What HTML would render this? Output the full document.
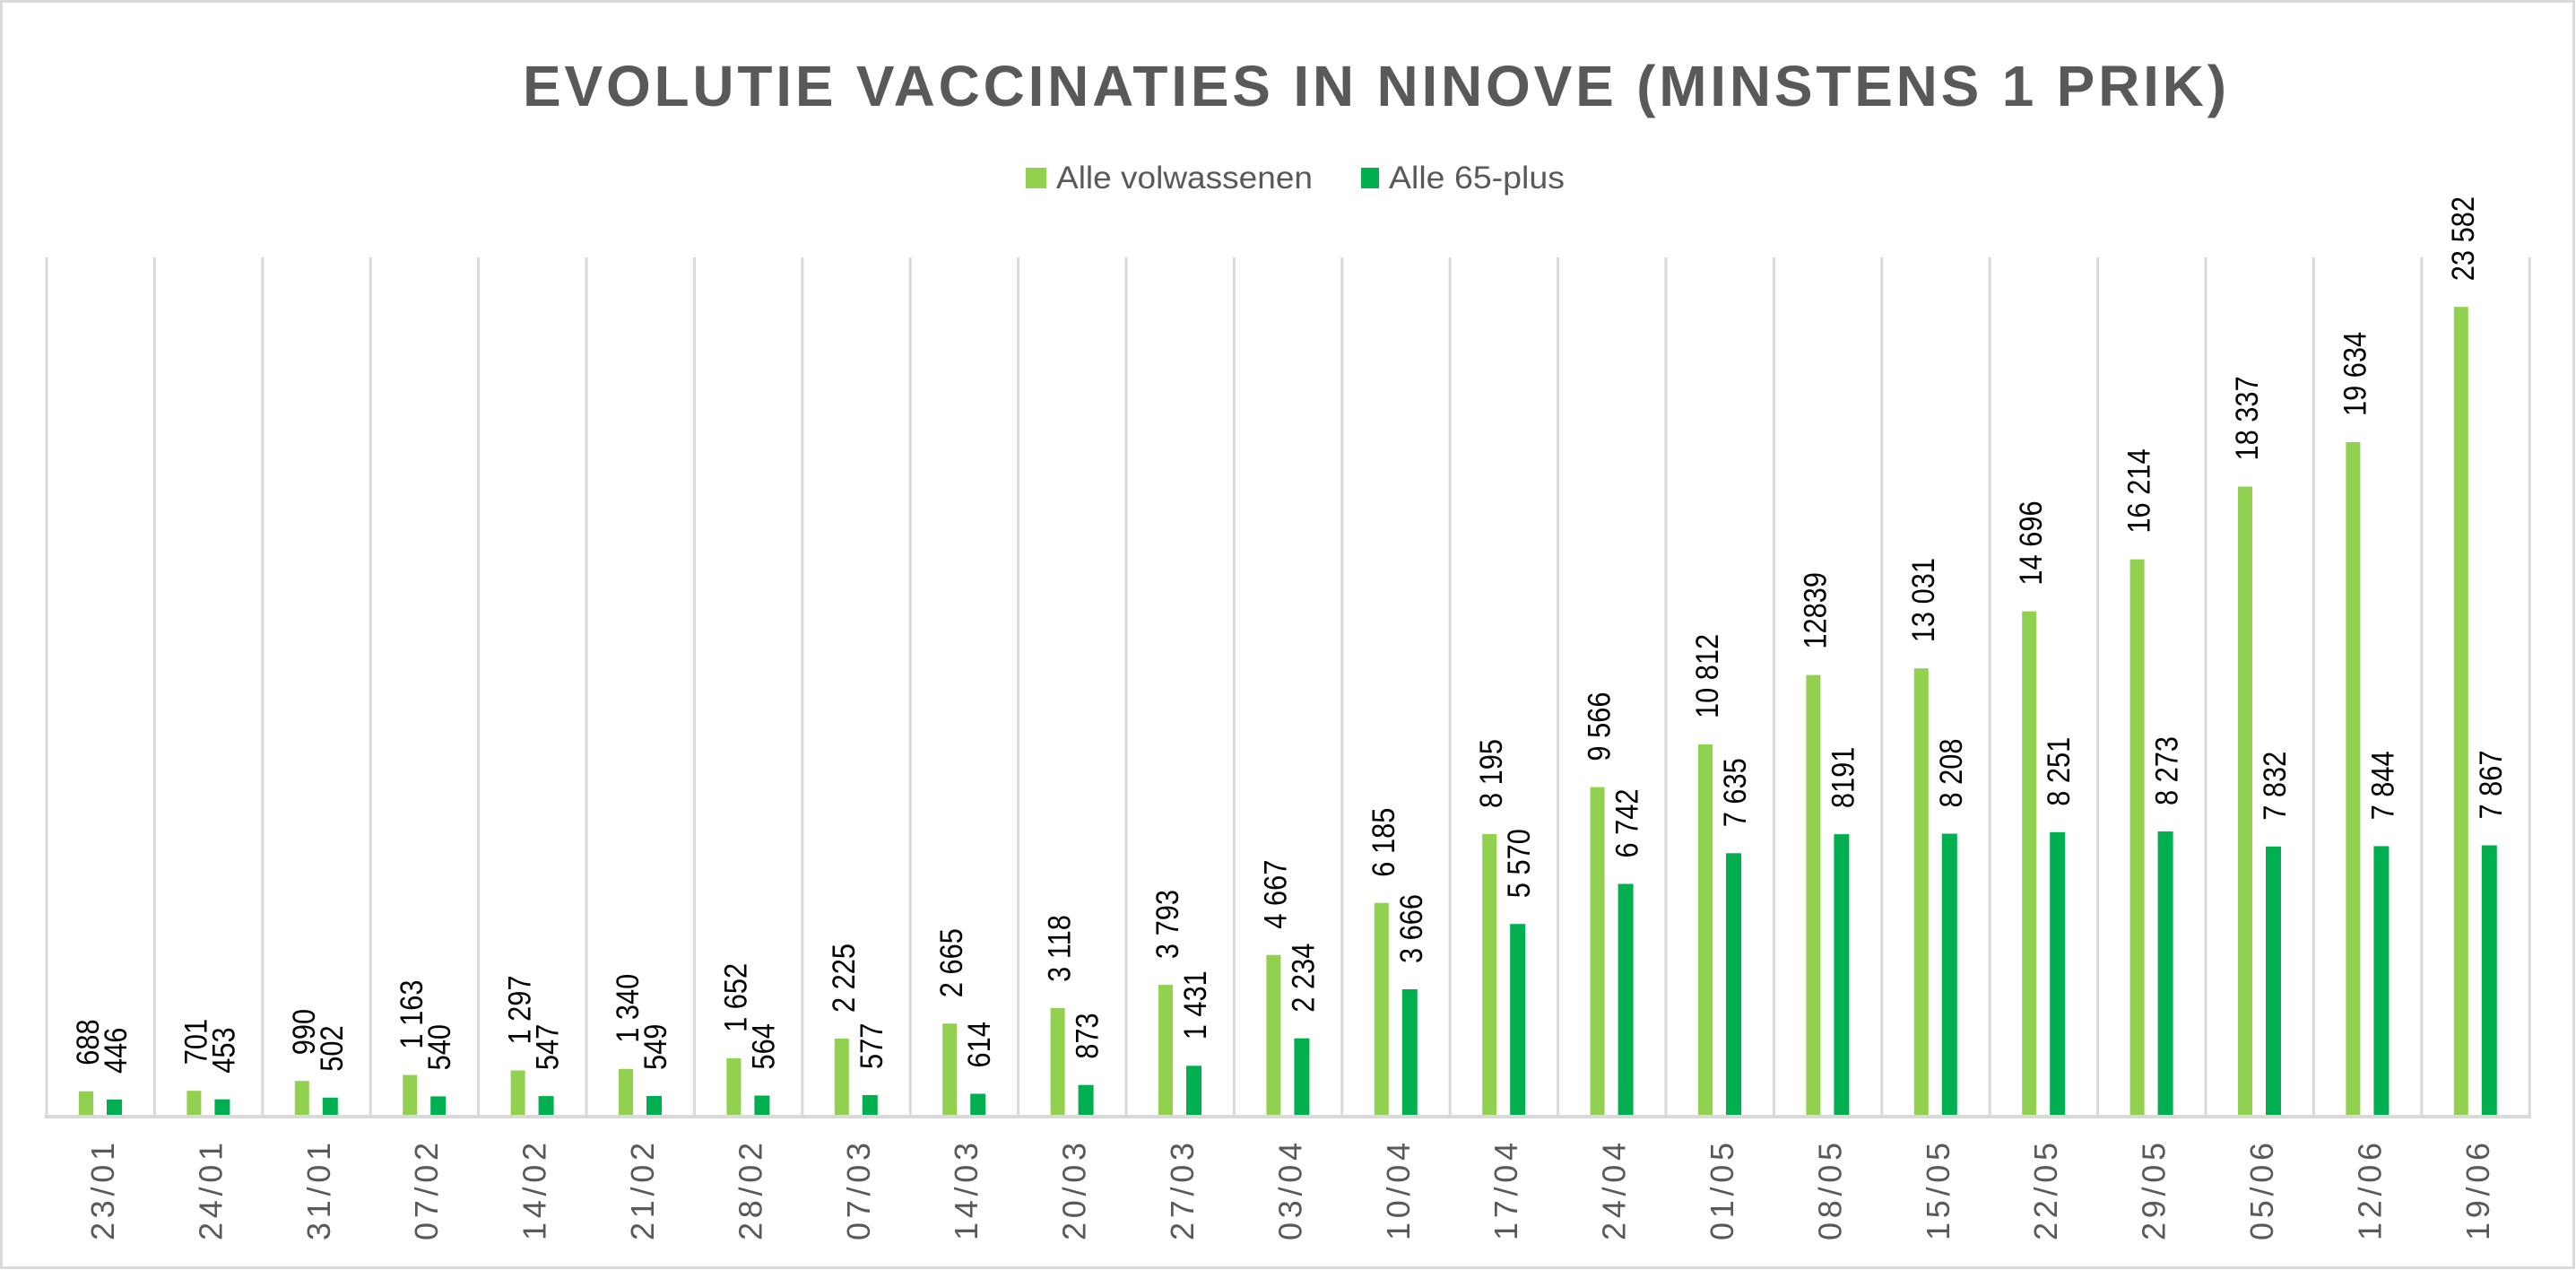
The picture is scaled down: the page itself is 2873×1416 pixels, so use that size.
<!DOCTYPE html>
<html><head><meta charset="utf-8"><style>
html,body{margin:0;padding:0;background:#fff;}
svg{display:block;}
.v{font-family:"Liberation Sans",sans-serif;font-size:35px;fill:#000;}
.x{font-family:"Liberation Sans",sans-serif;font-size:36px;fill:#595959;}
</style></head><body>
<svg width="2873" height="1416" viewBox="0 0 2873 1416" xmlns="http://www.w3.org/2000/svg">
<rect x="1.5" y="1.5" width="2869" height="1412" fill="#fff" stroke="#d9d9d9" stroke-width="3"/>
<text x="1533" y="118" text-anchor="middle" font-family="Liberation Sans,sans-serif" font-weight="bold" font-size="64" fill="#595959" textLength="1900" lengthAdjust="spacing">EVOLUTIE VACCINATIES IN NINOVE (MINSTENS 1 PRIK)</text>
<rect x="1144" y="187" width="23" height="23" fill="#92d050"/>
<text x="1178" y="210" font-family="Liberation Sans,sans-serif" font-size="35" fill="#595959" textLength="286" lengthAdjust="spacingAndGlyphs">Alle volwassenen</text>
<rect x="1518" y="187" width="20" height="23" fill="#00b050"/>
<text x="1549" y="210" font-family="Liberation Sans,sans-serif" font-size="35" fill="#595959" textLength="196" lengthAdjust="spacingAndGlyphs">Alle 65-plus</text>
<g stroke="#d9d9d9" stroke-width="3">
<line x1="52" y1="287" x2="52" y2="1243"/><line x1="172.4" y1="287" x2="172.4" y2="1243"/><line x1="292.8" y1="287" x2="292.8" y2="1243"/><line x1="413.2" y1="287" x2="413.2" y2="1243"/><line x1="533.6" y1="287" x2="533.6" y2="1243"/><line x1="654" y1="287" x2="654" y2="1243"/><line x1="774.4" y1="287" x2="774.4" y2="1243"/><line x1="894.8" y1="287" x2="894.8" y2="1243"/><line x1="1015.2" y1="287" x2="1015.2" y2="1243"/><line x1="1135.6" y1="287" x2="1135.6" y2="1243"/><line x1="1256" y1="287" x2="1256" y2="1243"/><line x1="1376.4" y1="287" x2="1376.4" y2="1243"/><line x1="1496.8" y1="287" x2="1496.8" y2="1243"/><line x1="1617.2" y1="287" x2="1617.2" y2="1243"/><line x1="1737.6" y1="287" x2="1737.6" y2="1243"/><line x1="1858" y1="287" x2="1858" y2="1243"/><line x1="1978.4" y1="287" x2="1978.4" y2="1243"/><line x1="2098.8" y1="287" x2="2098.8" y2="1243"/><line x1="2219.2" y1="287" x2="2219.2" y2="1243"/><line x1="2339.6" y1="287" x2="2339.6" y2="1243"/><line x1="2460" y1="287" x2="2460" y2="1243"/><line x1="2580.4" y1="287" x2="2580.4" y2="1243"/><line x1="2700.8" y1="287" x2="2700.8" y2="1243"/><line x1="2821.2" y1="287" x2="2821.2" y2="1243"/>
</g>
<line x1="50" y1="1245" x2="2823" y2="1245" stroke="#d9d9d9" stroke-width="4"/>

<g transform="translate(52,0)"><rect x="36" y="1216.7" width="16" height="26.3" fill="#92d050"/><rect x="67" y="1226" width="17" height="17" fill="#00b050"/><text class="v" transform="translate(58,1187.7) rotate(-90) scale(0.88,1)">688</text><text class="v" transform="translate(89,1197) rotate(-90) scale(0.88,1)">446</text><text class="x" text-anchor="end" textLength="109" lengthAdjust="spacing" transform="translate(75,1274) rotate(-90)">23/01</text></g>
<g transform="translate(172.4,0)"><rect x="36" y="1216.2" width="16" height="26.8" fill="#92d050"/><rect x="67" y="1225.7" width="17" height="17.3" fill="#00b050"/><text class="v" transform="translate(58,1187.2) rotate(-90) scale(0.88,1)">701</text><text class="v" transform="translate(89,1196.7) rotate(-90) scale(0.88,1)">453</text><text class="x" text-anchor="end" textLength="109" lengthAdjust="spacing" transform="translate(75,1274) rotate(-90)">24/01</text></g>
<g transform="translate(292.8,0)"><rect x="36" y="1205.2" width="16" height="37.8" fill="#92d050"/><rect x="67" y="1223.8" width="17" height="19.2" fill="#00b050"/><text class="v" transform="translate(58,1176.2) rotate(-90) scale(0.88,1)">990</text><text class="v" transform="translate(89,1194.8) rotate(-90) scale(0.88,1)">502</text><text class="x" text-anchor="end" textLength="109" lengthAdjust="spacing" transform="translate(75,1274) rotate(-90)">31/01</text></g>
<g transform="translate(413.2,0)"><rect x="36" y="1198.6" width="16" height="44.4" fill="#92d050"/><rect x="67" y="1222.4" width="17" height="20.6" fill="#00b050"/><text class="v" transform="translate(58,1169.6) rotate(-90) scale(0.88,1)">1 163</text><text class="v" transform="translate(89,1193.4) rotate(-90) scale(0.88,1)">540</text><text class="x" text-anchor="end" textLength="109" lengthAdjust="spacing" transform="translate(75,1274) rotate(-90)">07/02</text></g>
<g transform="translate(533.6,0)"><rect x="36" y="1193.5" width="16" height="49.5" fill="#92d050"/><rect x="67" y="1222.1" width="17" height="20.9" fill="#00b050"/><text class="v" transform="translate(58,1164.5) rotate(-90) scale(0.88,1)">1 297</text><text class="v" transform="translate(89,1193.1) rotate(-90) scale(0.88,1)">547</text><text class="x" text-anchor="end" textLength="109" lengthAdjust="spacing" transform="translate(75,1274) rotate(-90)">14/02</text></g>
<g transform="translate(654,0)"><rect x="36" y="1191.8" width="16" height="51.2" fill="#92d050"/><rect x="67" y="1222" width="17" height="21" fill="#00b050"/><text class="v" transform="translate(58,1162.8) rotate(-90) scale(0.88,1)">1 340</text><text class="v" transform="translate(89,1193) rotate(-90) scale(0.88,1)">549</text><text class="x" text-anchor="end" textLength="109" lengthAdjust="spacing" transform="translate(75,1274) rotate(-90)">21/02</text></g>
<g transform="translate(774.4,0)"><rect x="36" y="1179.9" width="16" height="63.1" fill="#92d050"/><rect x="67" y="1221.5" width="17" height="21.5" fill="#00b050"/><text class="v" transform="translate(58,1150.9) rotate(-90) scale(0.88,1)">1 652</text><text class="v" transform="translate(89,1192.5) rotate(-90) scale(0.88,1)">564</text><text class="x" text-anchor="end" textLength="109" lengthAdjust="spacing" transform="translate(75,1274) rotate(-90)">28/02</text></g>
<g transform="translate(894.8,0)"><rect x="36" y="1158" width="16" height="85" fill="#92d050"/><rect x="67" y="1221" width="17" height="22" fill="#00b050"/><text class="v" transform="translate(58,1129) rotate(-90) scale(0.88,1)">2 225</text><text class="v" transform="translate(89,1192) rotate(-90) scale(0.88,1)">577</text><text class="x" text-anchor="end" textLength="109" lengthAdjust="spacing" transform="translate(75,1274) rotate(-90)">07/03</text></g>
<g transform="translate(1015.2,0)"><rect x="36" y="1141.2" width="16" height="101.8" fill="#92d050"/><rect x="67" y="1219.5" width="17" height="23.5" fill="#00b050"/><text class="v" transform="translate(58,1112.2) rotate(-90) scale(0.88,1)">2 665</text><text class="v" transform="translate(89,1190.5) rotate(-90) scale(0.88,1)">614</text><text class="x" text-anchor="end" textLength="109" lengthAdjust="spacing" transform="translate(75,1274) rotate(-90)">14/03</text></g>
<g transform="translate(1135.6,0)"><rect x="36" y="1123.9" width="16" height="119.1" fill="#92d050"/><rect x="67" y="1209.7" width="17" height="33.3" fill="#00b050"/><text class="v" transform="translate(58,1094.9) rotate(-90) scale(0.88,1)">3 118</text><text class="v" transform="translate(89,1180.7) rotate(-90) scale(0.88,1)">873</text><text class="x" text-anchor="end" textLength="109" lengthAdjust="spacing" transform="translate(75,1274) rotate(-90)">20/03</text></g>
<g transform="translate(1256,0)"><rect x="36" y="1098.1" width="16" height="144.9" fill="#92d050"/><rect x="67" y="1188.3" width="17" height="54.7" fill="#00b050"/><text class="v" transform="translate(58,1069.1) rotate(-90) scale(0.88,1)">3 793</text><text class="v" transform="translate(89,1159.3) rotate(-90) scale(0.88,1)">1 431</text><text class="x" text-anchor="end" textLength="109" lengthAdjust="spacing" transform="translate(75,1274) rotate(-90)">27/03</text></g>
<g transform="translate(1376.4,0)"><rect x="36" y="1064.7" width="16" height="178.3" fill="#92d050"/><rect x="67" y="1157.7" width="17" height="85.3" fill="#00b050"/><text class="v" transform="translate(58,1035.7) rotate(-90) scale(0.88,1)">4 667</text><text class="v" transform="translate(89,1128.7) rotate(-90) scale(0.88,1)">2 234</text><text class="x" text-anchor="end" textLength="109" lengthAdjust="spacing" transform="translate(75,1274) rotate(-90)">03/04</text></g>
<g transform="translate(1496.8,0)"><rect x="36" y="1006.7" width="16" height="236.3" fill="#92d050"/><rect x="67" y="1103" width="17" height="140" fill="#00b050"/><text class="v" transform="translate(58,977.7) rotate(-90) scale(0.88,1)">6 185</text><text class="v" transform="translate(89,1074) rotate(-90) scale(0.88,1)">3 666</text><text class="x" text-anchor="end" textLength="109" lengthAdjust="spacing" transform="translate(75,1274) rotate(-90)">10/04</text></g>
<g transform="translate(1617.2,0)"><rect x="36" y="930" width="16" height="313" fill="#92d050"/><rect x="67" y="1030.2" width="17" height="212.8" fill="#00b050"/><text class="v" transform="translate(58,901) rotate(-90) scale(0.88,1)">8 195</text><text class="v" transform="translate(89,1001.2) rotate(-90) scale(0.88,1)">5 570</text><text class="x" text-anchor="end" textLength="109" lengthAdjust="spacing" transform="translate(75,1274) rotate(-90)">17/04</text></g>
<g transform="translate(1737.6,0)"><rect x="36" y="877.6" width="16" height="365.4" fill="#92d050"/><rect x="67" y="985.5" width="17" height="257.5" fill="#00b050"/><text class="v" transform="translate(58,848.6) rotate(-90) scale(0.88,1)">9 566</text><text class="v" transform="translate(89,956.5) rotate(-90) scale(0.88,1)">6 742</text><text class="x" text-anchor="end" textLength="109" lengthAdjust="spacing" transform="translate(75,1274) rotate(-90)">24/04</text></g>
<g transform="translate(1858,0)"><rect x="36" y="830" width="16" height="413" fill="#92d050"/><rect x="67" y="951.3" width="17" height="291.7" fill="#00b050"/><text class="v" transform="translate(58,801) rotate(-90) scale(0.88,1)">10 812</text><text class="v" transform="translate(89,922.3) rotate(-90) scale(0.88,1)">7 635</text><text class="x" text-anchor="end" textLength="109" lengthAdjust="spacing" transform="translate(75,1274) rotate(-90)">01/05</text></g>
<g transform="translate(1978.4,0)"><rect x="36" y="752.6" width="16" height="490.4" fill="#92d050"/><rect x="67" y="930.1" width="17" height="312.9" fill="#00b050"/><text class="v" transform="translate(58,723.6) rotate(-90) scale(0.88,1)">12839</text><text class="v" transform="translate(89,901.1) rotate(-90) scale(0.88,1)">8191</text><text class="x" text-anchor="end" textLength="109" lengthAdjust="spacing" transform="translate(75,1274) rotate(-90)">08/05</text></g>
<g transform="translate(2098.8,0)"><rect x="36" y="745.2" width="16" height="497.8" fill="#92d050"/><rect x="67" y="929.5" width="17" height="313.5" fill="#00b050"/><text class="v" transform="translate(58,716.2) rotate(-90) scale(0.88,1)">13 031</text><text class="v" transform="translate(89,900.5) rotate(-90) scale(0.88,1)">8 208</text><text class="x" text-anchor="end" textLength="109" lengthAdjust="spacing" transform="translate(75,1274) rotate(-90)">15/05</text></g>
<g transform="translate(2219.2,0)"><rect x="36" y="681.6" width="16" height="561.4" fill="#92d050"/><rect x="67" y="927.8" width="17" height="315.2" fill="#00b050"/><text class="v" transform="translate(58,652.6) rotate(-90) scale(0.88,1)">14 696</text><text class="v" transform="translate(89,898.8) rotate(-90) scale(0.88,1)">8 251</text><text class="x" text-anchor="end" textLength="109" lengthAdjust="spacing" transform="translate(75,1274) rotate(-90)">22/05</text></g>
<g transform="translate(2339.6,0)"><rect x="36" y="623.6" width="16" height="619.4" fill="#92d050"/><rect x="67" y="927" width="17" height="316" fill="#00b050"/><text class="v" transform="translate(58,594.6) rotate(-90) scale(0.88,1)">16 214</text><text class="v" transform="translate(89,898) rotate(-90) scale(0.88,1)">8 273</text><text class="x" text-anchor="end" textLength="109" lengthAdjust="spacing" transform="translate(75,1274) rotate(-90)">29/05</text></g>
<g transform="translate(2460,0)"><rect x="36" y="542.5" width="16" height="700.5" fill="#92d050"/><rect x="67" y="943.8" width="17" height="299.2" fill="#00b050"/><text class="v" transform="translate(58,513.5) rotate(-90) scale(0.88,1)">18 337</text><text class="v" transform="translate(89,914.8) rotate(-90) scale(0.88,1)">7 832</text><text class="x" text-anchor="end" textLength="109" lengthAdjust="spacing" transform="translate(75,1274) rotate(-90)">05/06</text></g>
<g transform="translate(2580.4,0)"><rect x="36" y="493" width="16" height="750" fill="#92d050"/><rect x="67" y="943.4" width="17" height="299.6" fill="#00b050"/><text class="v" transform="translate(58,464) rotate(-90) scale(0.88,1)">19 634</text><text class="v" transform="translate(89,914.4) rotate(-90) scale(0.88,1)">7 844</text><text class="x" text-anchor="end" textLength="109" lengthAdjust="spacing" transform="translate(75,1274) rotate(-90)">12/06</text></g>
<g transform="translate(2700.8,0)"><rect x="36" y="342.2" width="16" height="900.8" fill="#92d050"/><rect x="67" y="942.5" width="17" height="300.5" fill="#00b050"/><text class="v" transform="translate(58,313.2) rotate(-90) scale(0.88,1)">23 582</text><text class="v" transform="translate(89,913.5) rotate(-90) scale(0.88,1)">7 867</text><text class="x" text-anchor="end" textLength="109" lengthAdjust="spacing" transform="translate(75,1274) rotate(-90)">19/06</text></g>
</svg>
</body></html>
